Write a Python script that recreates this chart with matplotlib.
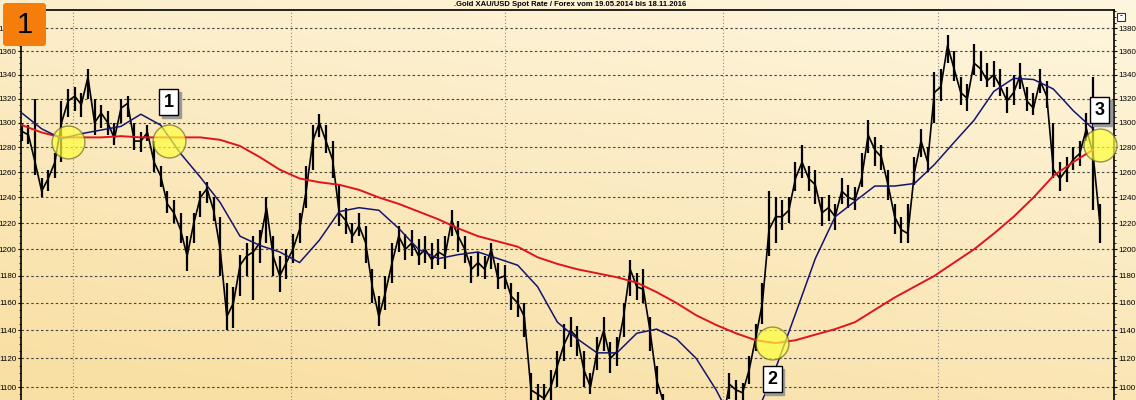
import numpy as np
import pandas as pd
import matplotlib
matplotlib.use("Agg")
import matplotlib.pyplot as plt
from matplotlib.ticker import FixedLocator, FuncFormatter, NullFormatter
from matplotlib.patches import FancyBboxPatch, Rectangle
from matplotlib.transforms import IdentityTransform

plt.rcParams['font.family'] = ['Liberation Sans', 'DejaVu Sans']

# trading days of the chart
start_date = '2014-05-19'
end_date = '2016-11-18'

# gold close / high / low, every 4th trading day
close = [1293, 1290, 1268, 1245, 1255, 1268, 1300, 1318, 1322, 1315,
         1338, 1300, 1308, 1300, 1287, 1312, 1316, 1285, 1285, 1292,
         1268, 1257, 1235, 1228, 1215, 1195, 1220, 1240, 1247, 1230,
         1200, 1150, 1160, 1188, 1195, 1198, 1205, 1232, 1195, 1180,
         1190, 1200, 1215, 1245, 1285, 1300, 1285, 1270, 1228, 1222,
         1210, 1218, 1205, 1172, 1150, 1168, 1190, 1210, 1200, 1205,
         1195, 1200, 1192, 1198, 1195, 1222, 1210, 1200, 1185, 1190,
         1185, 1200, 1178, 1180, 1165, 1160, 1150, 1098, 1095, 1092,
         1100, 1115, 1130, 1140, 1135, 1112, 1100, 1125, 1140, 1120,
         1125, 1150, 1185, 1172, 1170, 1140, 1105, 1090, 1080, 1075,
         1072, 1070, 1065, 1060, 1060, 1065, 1075, 1102, 1098, 1096,
         1112, 1135, 1160, 1215, 1225, 1225, 1230, 1255, 1268, 1255,
         1250, 1228, 1232, 1225, 1245, 1240, 1238, 1255, 1290, 1278,
         1272, 1250, 1225, 1215, 1212, 1260, 1285, 1268, 1325, 1330,
         1365, 1345, 1325, 1320, 1350, 1345, 1335, 1340, 1330, 1318,
         1325, 1340, 1318, 1312, 1335, 1322, 1262, 1255, 1262, 1270,
         1275, 1295, 1275, 1222]
high = [1300, 1298, 1320, 1255, 1262, 1275, 1318, 1328, 1330, 1325,
        1345, 1320, 1315, 1310, 1300, 1320, 1322, 1300, 1292, 1298,
        1285, 1265, 1245, 1238, 1228, 1210, 1228, 1245, 1252, 1240,
        1225, 1175, 1172, 1196, 1205, 1210, 1215, 1240, 1210, 1195,
        1200, 1212, 1228, 1265, 1298, 1307, 1298, 1285, 1250, 1232,
        1220, 1228, 1218, 1185, 1165, 1180, 1205, 1218, 1212, 1215,
        1208, 1210, 1205, 1208, 1210, 1230, 1222, 1210, 1195, 1198,
        1195, 1205, 1190, 1188, 1175, 1168, 1160, 1110, 1102, 1102,
        1112, 1125, 1145, 1150, 1143, 1125, 1110, 1135, 1150, 1132,
        1135, 1160, 1192, 1182, 1185, 1150, 1115, 1095, 1088, 1082,
        1080, 1078, 1072, 1068, 1068, 1072, 1085, 1110, 1105, 1103,
        1122, 1145, 1175, 1245, 1240, 1238, 1240, 1268, 1282, 1265,
        1262, 1240, 1242, 1235, 1255, 1250, 1248, 1275, 1302, 1288,
        1282, 1262, 1235, 1225, 1235, 1272, 1295, 1280, 1342, 1345,
        1374, 1360, 1338, 1332, 1366, 1360, 1350, 1352, 1345, 1330,
        1340, 1350, 1330, 1325, 1345, 1335, 1300, 1268, 1272, 1280,
        1285, 1308, 1338, 1235]
low = [1285, 1283, 1258, 1240, 1245, 1255, 1268, 1305, 1310, 1305,
       1320, 1290, 1296, 1290, 1282, 1300, 1305, 1278, 1276, 1285,
       1260, 1248, 1228, 1220, 1205, 1184, 1205, 1225, 1236, 1222,
       1180, 1140, 1142, 1165, 1180, 1162, 1190, 1205, 1180, 1168,
       1178, 1190, 1205, 1232, 1262, 1288, 1275, 1255, 1218, 1212,
       1205, 1210, 1190, 1160, 1143, 1155, 1175, 1198, 1192, 1195,
       1188, 1190, 1185, 1188, 1185, 1210, 1198, 1190, 1175, 1180,
       1178, 1185, 1170, 1170, 1155, 1150, 1135, 1085, 1085, 1085,
       1090, 1100, 1118, 1128, 1122, 1100, 1095, 1112, 1125, 1110,
       1115, 1135, 1165, 1162, 1160, 1125, 1095, 1080, 1072, 1068,
       1065, 1062, 1058, 1052, 1050, 1058, 1068, 1092, 1090, 1088,
       1102, 1125, 1145, 1195, 1205, 1215, 1220, 1245, 1255, 1245,
       1235, 1218, 1222, 1215, 1235, 1232, 1230, 1248, 1275, 1265,
       1262, 1238, 1212, 1205, 1205, 1250, 1272, 1260, 1300, 1318,
       1350, 1335, 1315, 1310, 1340, 1335, 1330, 1330, 1322, 1308,
       1315, 1328, 1310, 1306, 1325, 1312, 1255, 1245, 1252, 1262,
       1265, 1285, 1230, 1205]

# moving averages, every 12th trading day
ma200 = [1298, 1292, 1288, 1288, 1288, 1289, 1288, 1288, 1288, 1288,
         1286, 1281, 1272, 1262, 1255, 1252, 1250, 1246, 1240, 1235,
         1229, 1223, 1216, 1210, 1206, 1202, 1194, 1189, 1185, 1182,
         1179, 1175, 1168, 1160, 1151, 1144, 1138, 1133, 1131, 1133,
         1137, 1141, 1146, 1155, 1164, 1172, 1180, 1190, 1200, 1212,
         1225, 1240, 1257, 1268, 1278]
ma50 = [1308, 1295, 1287, 1291, 1294, 1297, 1307, 1298, 1275, 1256,
        1236, 1210, 1203, 1198, 1190, 1207, 1229, 1232, 1230, 1216,
        1200, 1193, 1196, 1198, 1193, 1188, 1172, 1146, 1134, 1124,
        1124, 1138, 1141, 1134, 1120, 1098, 1072, 1080, 1113, 1152,
        1193, 1225, 1237, 1249, 1249, 1251, 1266, 1284, 1302, 1326,
        1337, 1336, 1328, 1310, 1295]

# crossing points (marked with circles) and their numbers
cross_dates = ['2014-06-26', '2014-09-19', '2016-02-12', '2016-11-16']
cross_prices = [1284, 1285, 1131, 1282]
cross_labels = ['', '1', '2', '3']
label_offsets = [0, 28, -26, 25]

grid_dates = ['2014-07-01', '2015-01-01', '2015-07-01', '2016-01-01', '2016-07-01']
y_ticks = list(range(1100, 1400, 20))
title = ".Gold XAU/USD Spot Rate / Forex vom 19.05.2014 bis 18.11.2016"

days = pd.bdate_range(start_date, end_date)
x_close = np.arange(0, len(days), 4)[:len(close)]
x_ma = np.arange(0, len(days), 12)[:len(ma50)]

W, H = 1136, 400
fig = plt.figure(figsize=(W / 100, H / 100), dpi=100)

# background gradient over the whole figure
bg = fig.add_axes([0, 0, 1, 1], zorder=-10)
yy, xx = np.mgrid[0:1:200j, 0:1:400j]
t = np.clip(0.65 * yy + 0.3 * (1 - xx) + 0.1, 0, 1)
c0 = np.array([1.0, 0.975, 0.90])
c1 = np.array([0.975, 0.875, 0.64])
img = c0 + (c1 - c0) * t[..., None]
bg.imshow(img, aspect='auto', extent=[0, 1, 0, 1])
bg.axis('off')

ax = fig.add_axes([21 / W, 0, (1114 - 21) / W, 1 - 10 / H])
ax.set_facecolor('none')
ax.set_yscale('log')
ax.set_ylim(1091, 1396)
ax.set_xlim(-0.5, 660.7)

# grid
for v in y_ticks:
    ax.axhline(v, color='#444444', lw=0.8, ls=(0, (2.2, 2.2)), zorder=1)
for d in grid_dates:
    ax.axvline(days.searchsorted(pd.Timestamp(d)), color='#8a8a8a', lw=0.8,
               ls=(0, (1, 2)), zorder=1)

# price bars and averages
ax.vlines(x_close, low, high, color='black', lw=1.6, zorder=3)
ax.plot(x_close, close, color='black', lw=1.2, zorder=3)
ax.plot(x_ma, ma200, color='#e0141e', lw=1.4, zorder=4)
ax.plot(x_ma, ma50, color='#141470', lw=1.1, zorder=4)

# circles + numbered boxes
cx = [days.searchsorted(pd.Timestamp(d)) for d in cross_dates]
ax.scatter(cx, cross_prices, s=560, color='#ffff3c', alpha=0.7,
           edgecolors='#6b6b2a', linewidths=1.0, zorder=5, clip_on=False)
for x, p, lab, off in zip(cx, cross_prices, cross_labels, label_offsets):
    if not lab:
        continue
    ax.annotate(lab, (x, p), xytext=(1.8, off - 1.8), textcoords='offset points',
                ha='center', va='center', fontsize=13, fontweight='bold', color='#9a9a9a',
                bbox=dict(boxstyle='square,pad=0.25', fc='#9a9a9a', ec='#9a9a9a'), zorder=6)
    ax.annotate(lab, (x, p), xytext=(0, off), textcoords='offset points',
                ha='center', va='center', fontsize=13, fontweight='bold', color='black',
                bbox=dict(boxstyle='square,pad=0.25', fc='white', ec='black', lw=1), zorder=7)

# axes
ax.yaxis.set_major_locator(FixedLocator(y_ticks))
ax.yaxis.set_major_formatter(FuncFormatter(lambda v, p: '%d' % round(v)))
ax.yaxis.set_minor_locator(FixedLocator(list(range(1095, 1400, 5))))
ax.yaxis.set_minor_formatter(NullFormatter())
ax.tick_params(axis='y', which='major', labelsize=5.8, length=2.5, width=0.8,
               left=True, right=True, labelleft=True, labelright=True, pad=0.8)
ax.tick_params(axis='y', which='minor', length=1.5, width=0.6, left=True, right=True)
ax.set_xticks([])
ax.spines['bottom'].set_visible(False)
for s in ['left', 'right', 'top']:
    ax.spines[s].set_linewidth(1.2)

fig.text(570 / W, 1 - 4.5 / H, title, ha='center', va='center', fontsize=5.5,
         fontweight='bold')

# small window icon at top right
fig.add_artist(Rectangle((1117, H - 21), 8, 8, fc='white', ec='#333333', lw=0.8,
                         transform=IdentityTransform()))
fig.text(1121 / W, 1 - 16 / H, '-', ha='center', va='center', fontsize=6,
         fontweight='bold')

# orange number badge
badge = FancyBboxPatch((3, H - 46), 43, 43, boxstyle='round,pad=0,rounding_size=3',
                       fc='#f57d0c', ec='none', transform=IdentityTransform(), zorder=20)
fig.add_artist(badge)
fig.text(24.5 / W, 1 - 25 / H, '1', ha='center', va='center', fontsize=21,
         color='black', zorder=21)

fig.savefig('out.png', dpi=100)
